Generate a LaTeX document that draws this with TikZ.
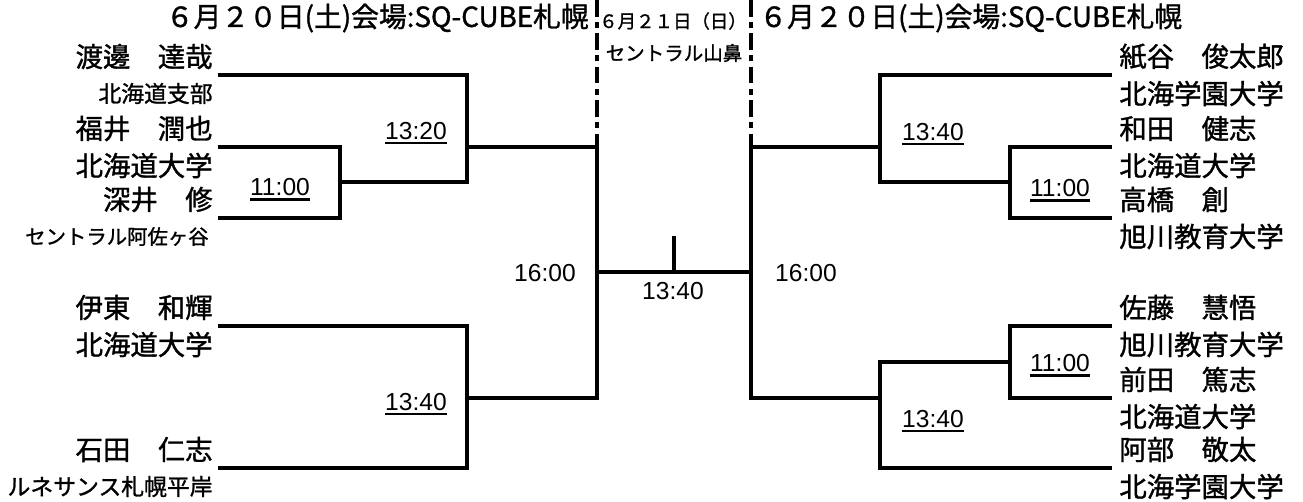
\documentclass[tikz,border=0pt]{standalone}
\usepackage{fontspec}
\setmainfont{Noto Sans CJK JP}[FakeBold=1.2]
\newfontfamily\timefont{Liberation Sans}
\newcommand{\tmline}[1]{\setbox0\hbox{#1}\rlap{\rule[-2.9pt]{\wd0}{1.2pt}}\box0}
\tikzset{
  bracket/.style={line width=2.2pt},
  sep/.style={line width=2.2pt,dash pattern=on 9.5pt off 3pt on 3.5pt off 3pt},
  player/.style={inner sep=0pt,font=\fontsize{15.6}{16}\selectfont},
  club/.style={inner sep=0pt,font=\fontsize{13}{14}\selectfont},
  slot/.style={inner sep=0pt,anchor=base,font=\timefont\fontsize{14}{15}\selectfont},
  head/.style={inner sep=0pt,font=\fontsize{15.8}{16}\selectfont},
  venue/.style={inner sep=0pt,font=\fontsize{11.1}{12}\selectfont}
}
\begin{document}
\begin{tikzpicture}[x=0.02cm,y=-0.02cm]
    \useasboundingbox (0,0) rectangle (1303,501);
    % headings
    \node[head,anchor=east] (hl) at (589,18) {６月２０日(土)会場:SQ-CUBE札幌};
    \node[head,anchor=west] (hr) at (759,18) {６月２０日(土)会場:SQ-CUBE札幌};
    \node[venue,font=\fontsize{10.5}{12}\selectfont] (vd) at (673,21) {６月２１日（日）};
    \node[venue] (vp) at (674,53) {セントラル山鼻};
    % left players
    \node[player,anchor=east] (l1) at (213,56.5) {渡邊　達哉};
    \node[club,anchor=east] (l2) at (213,93.5) {北海道支部};
    \node[player,anchor=east] (l3) at (213,128.5) {福井　潤也};
    \node[player,anchor=east] (l4) at (213,165.5) {北海道大学};
    \node[player,anchor=east] (l5) at (213,199.5) {深井　修};
    \node[club,anchor=east,font=\fontsize{11.6}{12}\selectfont] (l6) at (209,236.5) {セントラル阿佐ヶ谷};
    \node[player,anchor=east] (l7) at (213,307.5) {伊東　和輝};
    \node[player,anchor=east] (l8) at (213,344.5) {北海道大学};
    \node[player,anchor=east] (l9) at (213,449.5) {石田　仁志};
    \node[club,anchor=east] (l10) at (213,486.5) {ルネサンス札幌平岸};
    % right players
    \node[player,anchor=west] (r1) at (1119,56.5) {紙谷　俊太郎};
    \node[player,anchor=west] (r2) at (1119,93.5) {北海学園大学};
    \node[player,anchor=west] (r3) at (1119,128.5) {和田　健志};
    \node[player,anchor=west] (r4) at (1119,165.5) {北海道大学};
    \node[player,anchor=west] (r5) at (1119,199.5) {高橋　創};
    \node[player,anchor=west] (r6) at (1119,236.5) {旭川教育大学};
    \node[player,anchor=west] (r7) at (1119,307.5) {佐藤　慧悟};
    \node[player,anchor=west] (r8) at (1119,344.5) {旭川教育大学};
    \node[player,anchor=west] (r9) at (1119,379.5) {前田　篤志};
    \node[player,anchor=west] (r10) at (1119,416.5) {北海道大学};
    \node[player,anchor=west] (r11) at (1119,449.5) {阿部　敬太};
    \node[player,anchor=west] (r12) at (1119,486.5) {北海学園大学};
    % bracket points
    \coordinate (a1) at (218,75);
    \coordinate (a2) at (218,147);
    \coordinate (a3) at (218,218);
    \coordinate (a4) at (218,326);
    \coordinate (a5) at (218,468);
    \coordinate (jl) at (340,182);
    \coordinate (sl) at (467,147);
    \coordinate (sl2) at (467,398);
    \coordinate (fl) at (597,272);
    \coordinate (fm) at (674,272);
    \coordinate (tk) at (674,236);
    \coordinate (fr) at (751,272);
    \coordinate (sr) at (880,147);
    \coordinate (sr2) at (880,398);
    \coordinate (jr) at (1010,182);
    \coordinate (jr2) at (1010,362);
    \coordinate (b1) at (1112,75);
    \coordinate (b2) at (1112,147);
    \coordinate (b3) at (1112,218);
    \coordinate (b4) at (1112,326);
    \coordinate (b5) at (1112,398);
    \coordinate (b6) at (1112,468);
    \coordinate (dl) at (597,0);
    \coordinate (dr) at (751,0);
    % left half
    \draw[bracket] (a2) -| (jl);
    \draw[bracket] (a3) -| (jl);
    \draw[bracket] (a1) -| (sl);
    \draw[bracket] (jl) -| (sl);
    \draw[bracket] (a4) -| (sl2);
    \draw[bracket] (a5) -| (sl2);
    \draw[bracket] (sl) -| (fl);
    \draw[bracket] (sl2) -| (fl);
    % final
    \draw[bracket] (fl) -- (fr);
    \draw[bracket] (fm) -- (tk);
    % right half
    \draw[bracket] (sr) -| (fr);
    \draw[bracket] (sr2) -| (fr);
    \draw[bracket] (b1) -| (sr);
    \draw[bracket] (jr) -| (sr);
    \draw[bracket] (b2) -| (jr);
    \draw[bracket] (b3) -| (jr);
    \draw[bracket] (jr2) -| (sr2);
    \draw[bracket] (b6) -| (sr2);
    \draw[bracket] (b4) -| (jr2);
    \draw[bracket] (b5) -| (jr2);
    % day separators
    \draw[sep] (dl) -- (fl |- sl);
    \draw[sep] (dr) -- (fr |- sr);
    % match times
    \node[slot] (t1) at (416,139) {\tmline{13:20}};
    \node[slot] (t2) at (280,195.5) {\tmline{11:00}};
    \node[slot] (t3) at (416,410) {\tmline{13:40}};
    \node[slot] (t4) at (545,281.5) {16:00};
    \node[slot] (t5) at (673,299) {13:40};
    \node[slot] (t6) at (806,281.5) {16:00};
    \node[slot] (t7) at (933,140) {\tmline{13:40}};
    \node[slot] (t8) at (1060,196.5) {\tmline{11:00}};
    \node[slot] (t9) at (1060,371.5) {\tmline{11:00}};
    \node[slot] (t10) at (933,427) {\tmline{13:40}};
\end{tikzpicture}
\end{document}
